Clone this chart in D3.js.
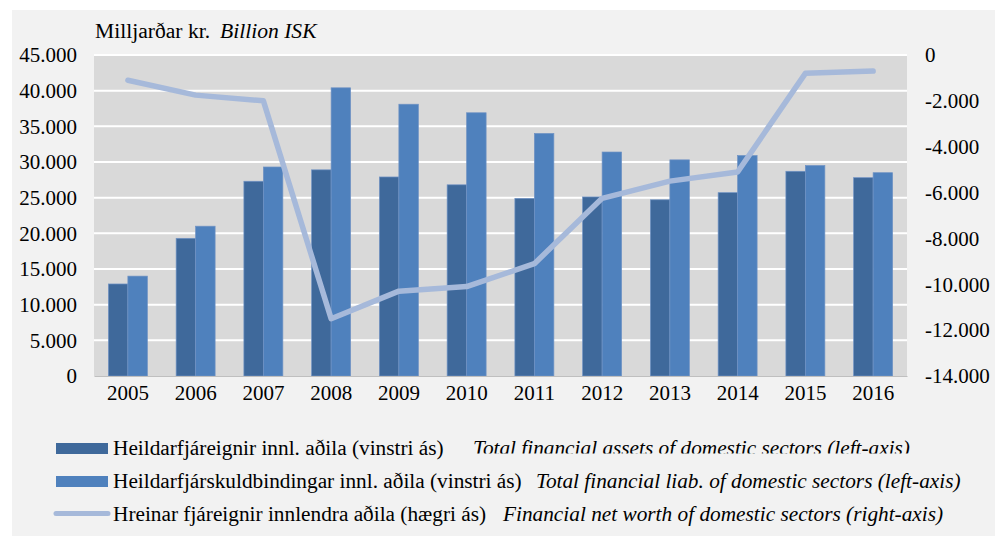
<!DOCTYPE html>
<html><head><meta charset="utf-8">
<script src="https://cdn.jsdelivr.net/npm/d3@7"></script>
<style>
body{margin:0;background:#fff}
svg{display:block}
text{font-family:"Liberation Serif","Times New Roman",serif;fill:#000}
</style>
</head><body>
<svg id="c" width="1006" height="536"></svg>
<script>
const years = ["2005","2006","2007","2008","2009","2010","2011","2012","2013","2014","2015","2016"];
const assets = [12900,19300,27300,28900,27900,26800,24900,25100,24700,25700,28700,27800];
const liabilities = [14000,21000,29300,40400,38100,36900,34000,31400,30300,30900,29500,28500];
const netWorth = [-1100,-1750,-2000,-11500,-10300,-10100,-9100,-6250,-5500,-5100,-800,-700];
const leftTicks = [0,5000,10000,15000,20000,25000,30000,35000,40000,45000];
const rightTicks = [0,-2000,-4000,-6000,-8000,-10000,-12000,-14000];
const titleIs = "Milljarðar kr.";
const titleEn = "Billion ISK";
const legendIs = ["Heildarfjáreignir innl. aðila (vinstri ás)","Heildarfjárskuldbindingar innl. aðila (vinstri ás)","Hreinar fjáreignir innlendra aðila (hægri ás)"];
const legendEn = ["Total financial assets of domestic sectors  (left-axis)","Total financial liab. of domestic sectors (left-axis)","Financial net worth of domestic sectors (right-axis)"];

const colAssets = "#3f699b", colLiab = "#4f81bd", colLine = "#a6b9da";
const svg = d3.select("#c");
const L = 94, R = 907, T = 55, B = 376;
const FS = 21, FSL = 21.3;

const loc = d3.formatLocale({decimal:",", thousands:".", grouping:[3], currency:["",""], minus:"-"});
const fmt = loc.format(",d");

// background panel
svg.append("rect").attr("x",12).attr("y",10).attr("width",983).attr("height",526).attr("fill","#f2f2f2");
svg.append("rect").attr("x",L).attr("y",T).attr("width",R-L).attr("height",B-T).attr("fill","#d9d9d9");

const x = d3.scaleBand().domain(years).range([L,R]).paddingInner(0.425).paddingOuter(0.2125);
const xs = d3.scaleBand().domain([0,1]).range([0,x.bandwidth()]);
const yL = d3.scaleLinear().domain([0,45000]).range([B,T]);
const yR = d3.scaleLinear().domain([-14000,0]).range([B,T]);

// gridlines
svg.append("g").selectAll("line").data(leftTicks.filter(d=>d>0)).join("line")
  .attr("x1",L).attr("x2",R).attr("y1",d=>yL(d)).attr("y2",d=>yL(d))
  .attr("stroke","#fff").attr("stroke-width",2);

// bars
const g = svg.append("g");
years.forEach((yr,i)=>{
  [[assets[i],colAssets],[liabilities[i],colLiab]].forEach(([v,c],k)=>{
    g.append("rect").attr("x",x(yr)+xs(k)).attr("y",yL(v))
      .attr("width",xs.bandwidth()).attr("height",yL(0)-yL(v))
      .attr("fill",c).attr("stroke","#6f92c4").attr("stroke-width",0.7);
  });
});

// x axis
const xa = svg.append("g").attr("transform",`translate(0,${B})`)
  .call(d3.axisBottom(x).tickSize(0).tickPadding(9));
xa.select(".domain").attr("stroke","#bfbfbf").attr("stroke-width",1);
xa.selectAll("text").attr("font-size",FS).attr("fill","#000");

// left axis
const la = svg.append("g").attr("transform",`translate(${L},0)`)
  .call(d3.axisLeft(yL).tickValues(leftTicks).tickFormat(fmt).tickSize(0).tickPadding(17));
la.select(".domain").remove();
la.selectAll("text").attr("font-size",FS).attr("fill","#000");

// right axis
const ra = svg.append("g").attr("transform",`translate(${R},0)`)
  .call(d3.axisRight(yR).tickValues(rightTicks).tickFormat(fmt).tickSize(0).tickPadding(18));
ra.select(".domain").remove();
ra.selectAll("text").attr("font-size",FS).attr("fill","#000");

// line
const line = d3.line().x((d,i)=>x(years[i])+x.bandwidth()/2).y(d=>yR(d));
svg.append("path").datum(netWorth).attr("d",line).attr("fill","none")
  .attr("stroke",colLine).attr("stroke-width",5.5).attr("stroke-linejoin","round").attr("stroke-linecap","round");

// title
svg.append("text").attr("x",95).attr("y",38).attr("font-size",21.6).text(titleIs);
svg.append("text").attr("x",220).attr("y",38).attr("font-size",21.6).attr("font-style","italic").text(titleEn);

// legend
const lg = svg.append("g");
const baseY = [455,488,520.5];
const enX = [473,536,503];
lg.append("rect").attr("x",56).attr("y",443).attr("width",52).attr("height",11).attr("fill",colAssets);
lg.append("rect").attr("x",56).attr("y",476).attr("width",52).attr("height",11).attr("fill",colLiab);
lg.append("line").attr("x1",56).attr("x2",108).attr("y1",513.5).attr("y2",513.5)
  .attr("stroke",colLine).attr("stroke-width",5).attr("stroke-linecap","round");
svg.append("clipPath").attr("id","clip1").append("rect").attr("x",0).attr("y",420).attr("width",1006).attr("height",33.5);
legendIs.forEach((t,i)=>{
  lg.append("text").attr("x",113).attr("y",baseY[i]).attr("font-size",FSL).text(t);
  const e = lg.append("text").attr("x",enX[i]).attr("y",baseY[i]).attr("font-size",FSL).attr("font-style","italic").text(legendEn[i]);
  if(i===0) e.attr("clip-path","url(#clip1)");
});
</script>
</body></html>
